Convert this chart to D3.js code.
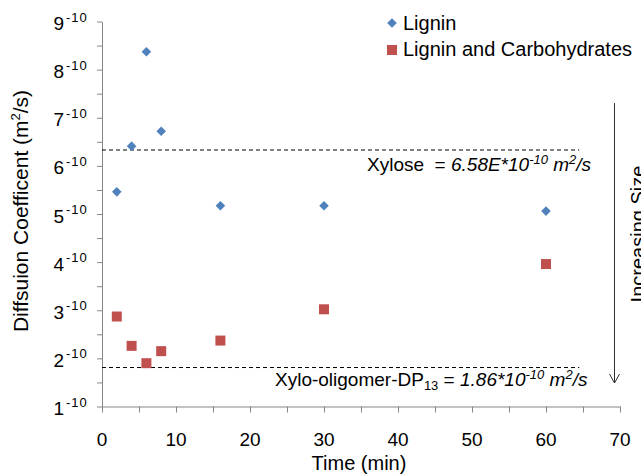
<!DOCTYPE html>
<html>
<head>
<meta charset="utf-8">
<script src="https://cdn.jsdelivr.net/npm/d3@7"></script>
<style>
  html, body { margin: 0; padding: 0; background: #fff; }
  svg { display: block; font-family: "Liberation Sans", Arial, sans-serif; }
</style>
</head>
<body>
<svg id="chart" width="641" height="475"></svg>
<script>
// ---- data ----
const times = [2, 4, 6, 8, 16, 30, 60];
const lignin = [5.46, 6.41, 8.37, 6.72, 5.17, 5.17, 5.06];
const ligninCarb = [2.87, 2.26, 1.90, 2.15, 2.37, 3.02, 3.96];
const xTickValues = [0, 10, 20, 30, 40, 50, 60, 70];
const xMinorValues = [5, 15, 25, 35, 45, 55, 65];
const yTickValues = [1, 2, 3, 4, 5, 6, 7, 8, 9];
const yMinorValues = [1.5, 2.5, 3.5, 4.5, 5.5, 6.5, 7.5, 8.5];
const yTickSuffix = "-10";
const xyloseLine = 6.33;
const xyloOligomerLine = 1.81;
const seriesNames = ["Lignin", "Lignin and Carbohydrates"];
const seriesColors = ["#4F81BD", "#C0504D"];

// ---- layout ----
const svg = d3.select("#chart");
const x = d3.scaleLinear().domain([0, 70]).range([102, 620]);
const y = d3.scaleLinear().domain([1, 9]).range([406.5, 21.5]);
const axisColor = "#868686";

// minor ticks
svg.append("g").attr("transform", `translate(${x(0)},0)`)
  .call(d3.axisLeft(y).tickValues(yMinorValues).tickSize(5).tickSizeOuter(0).tickFormat(""))
  .call(g => g.select(".domain").remove());
svg.append("g").attr("transform", `translate(0,${y(1)})`)
  .call(d3.axisBottom(x).tickValues(xMinorValues).tickSize(6).tickSizeOuter(0).tickFormat(""))
  .call(g => g.select(".domain").remove());

// major axes
svg.append("g").attr("transform", `translate(${x(0)},0)`)
  .call(d3.axisLeft(y).tickValues(yTickValues).tickSize(5).tickSizeOuter(0).tickFormat(""));
svg.append("g").attr("transform", `translate(0,${y(1)})`)
  .call(d3.axisBottom(x).tickValues(xTickValues).tickSize(6).tickSizeOuter(0).tickFormat(""));

svg.selectAll(".domain, .tick line").attr("stroke", axisColor).attr("stroke-width", 1);

// y tick labels with superscript
svg.append("g").selectAll("text").data(yTickValues).join("text")
  .attr("x", 64).attr("y", d => y(d) + 8.5)
  .attr("text-anchor", "end").attr("font-size", 19).attr("fill", "#000")
  .text(d => d);
svg.append("g").selectAll("text").data(yTickValues).join("text")
  .attr("x", 66).attr("y", d => y(d))
  .attr("font-size", 13).attr("fill", "#000").attr("letter-spacing", 1)
  .text(yTickSuffix);

// x tick labels
svg.append("g").selectAll("text").data(xTickValues).join("text")
  .attr("x", d => x(d)).attr("y", 446)
  .attr("text-anchor", "middle").attr("font-size", 19).attr("fill", "#000")
  .text(d => d);

// axis titles
svg.append("text").attr("x", 359).attr("y", 470).attr("text-anchor", "middle")
  .attr("font-size", 20).attr("fill", "#000").text("Time (min)");

const yt = svg.append("text")
  .attr("transform", "translate(28,211) rotate(-90)")
  .attr("text-anchor", "middle").attr("font-size", 21).attr("fill", "#000");
yt.append("tspan").text("Diffsuion Coefficent (m");
yt.append("tspan").attr("font-size", 13).attr("dy", -8).text("2");
yt.append("tspan").attr("dy", 8).text("/s)");

// reference dashed lines
[xyloseLine, xyloOligomerLine].forEach(v => {
  svg.append("line")
    .attr("x1", x(0)).attr("x2", x(64.5))
    .attr("y1", y(v)).attr("y2", y(v))
    .attr("stroke", "#000").attr("stroke-width", 1).attr("stroke-dasharray", "4,3");
});

// annotation: Xylose
const t1 = svg.append("text").attr("x", 367).attr("y", 171)
  .attr("font-size", 19).attr("fill", "#000");
t1.append("tspan").attr("xml:space", "preserve").text("Xylose  = ");
t1.append("tspan").attr("font-style", "italic").text("6.58E*10");
t1.append("tspan").attr("font-style", "italic").attr("font-size", 13).attr("dy", -7).text("-10");
t1.append("tspan").attr("font-style", "italic").attr("dy", 7).text(" m");
t1.append("tspan").attr("font-style", "italic").attr("font-size", 13).attr("dy", -7).text("2");
t1.append("tspan").attr("font-style", "italic").attr("dy", 7).text("/s");

// annotation: Xylo-oligomer
const t2 = svg.append("text").attr("x", 275).attr("y", 386)
  .attr("font-size", 19).attr("fill", "#000");
t2.append("tspan").text("Xylo-oligomer-DP");
t2.append("tspan").attr("font-size", 13).attr("dy", 4).text("13");
t2.append("tspan").attr("dy", -4).attr("xml:space", "preserve").text(" = ");
t2.append("tspan").attr("font-style", "italic").text("1.86*10");
t2.append("tspan").attr("font-style", "italic").attr("font-size", 13).attr("dy", -7).text("-10");
t2.append("tspan").attr("font-style", "italic").attr("dy", 7).text(" m");
t2.append("tspan").attr("font-style", "italic").attr("font-size", 13).attr("dy", -7).text("2");
t2.append("tspan").attr("font-style", "italic").attr("dy", 7).text("/s");

// arrow "Increasing Size"
svg.append("line").attr("x1", 614.5).attr("x2", 614.5).attr("y1", 103).attr("y2", 383)
  .attr("stroke", "#303030").attr("stroke-width", 1);
svg.append("path").attr("d", "M609.5,374 L614.5,383 L619.5,374")
  .attr("fill", "none").attr("stroke", "#303030").attr("stroke-width", 1);
svg.append("text").attr("transform", "translate(645,234) rotate(-90)")
  .attr("text-anchor", "middle").attr("font-size", 20).attr("fill", "#000")
  .text("Increasing Size");

// points
const diamond = d3.symbol().type(d3.symbolSquare).size(46);
const square = d3.symbol().type(d3.symbolSquare).size(100);

svg.append("g").selectAll("path").data(times.map((t, i) => [t, lignin[i]])).join("path")
  .attr("d", diamond)
  .attr("transform", d => `translate(${x(d[0])},${y(d[1])}) rotate(45)`)
  .attr("fill", seriesColors[0]);

svg.append("g").selectAll("path").data(times.map((t, i) => [t, ligninCarb[i]])).join("path")
  .attr("d", square)
  .attr("transform", d => `translate(${x(d[0])},${y(d[1])})`)
  .attr("fill", seriesColors[1]);

// legend
const legend = svg.append("g");
legend.append("path").attr("d", diamond).attr("transform", "translate(392,23) rotate(45)")
  .attr("fill", seriesColors[0]);
legend.append("path").attr("d", square).attr("transform", "translate(392,50)")
  .attr("fill", seriesColors[1]);
legend.append("text").attr("x", 403).attr("y", 30).attr("font-size", 20).attr("fill", "#000").text(seriesNames[0]);
legend.append("text").attr("x", 403).attr("y", 56).attr("font-size", 20).attr("fill", "#000").text(seriesNames[1]);
</script>
</body>
</html>
